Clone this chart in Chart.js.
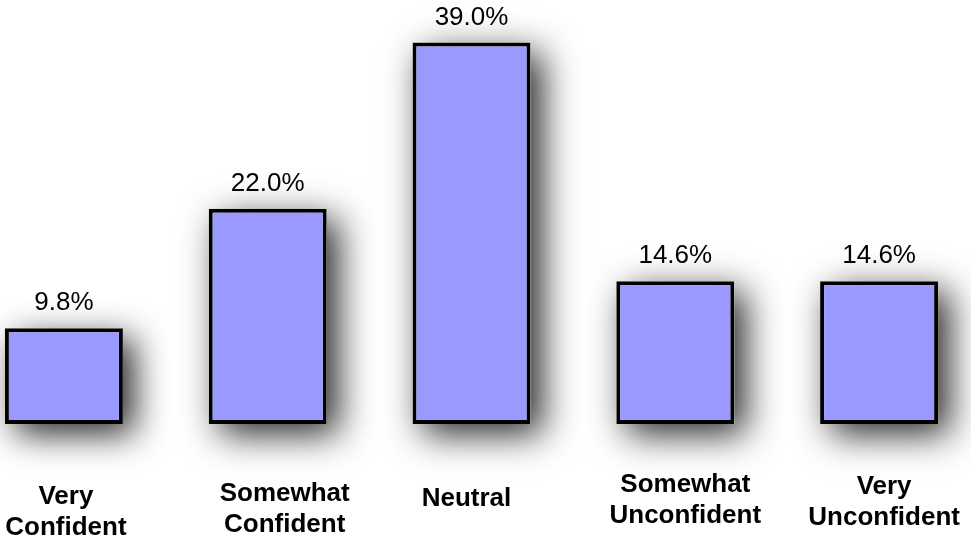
<!DOCTYPE html>
<html>
<head>
<meta charset="utf-8">
<script src="https://cdn.jsdelivr.net/npm/chart.js@4"></script>
<style>
  html, body { margin: 0; padding: 0; background: #fff; overflow: hidden; }
  #wrap { position: absolute; left: -38px; top: 0; width: 1019px; height: 541px; }
</style>
</head>
<body>
<div id="wrap"><canvas id="chart"></canvas></div>
<script>
// Data
const categories = [
    ['Very', 'Confident'],
    ['Somewhat', 'Confident'],
    ['Neutral'],
    ['Somewhat', 'Unconfident'],
    ['Very', 'Unconfident']
];
const percentValues = [9.8, 22.0, 39.0, 14.6, 14.6];
const valueLabels = ['9.8%', '22.0%', '39.0%', '14.6%', '14.6%'];

// posisi label kategori (geser dari tengah batang / garis dasar)
const labelShiftX = [2, 17, -5, 10, 5];
const labelShiftY = [80, 77, 82, 68, 70];

// bayangan di belakang batang
const shadowPlugin = {
    id: 'barShadow',
    beforeDatasetsDraw(chart) {
        const ctx = chart.ctx;
        const meta = chart.getDatasetMeta(0);
        ctx.save();
        ctx.shadowColor = 'rgba(0,0,0,0.85)';
        ctx.shadowBlur = 34;
        ctx.shadowOffsetX = 11;
        ctx.shadowOffsetY = 10;
        ctx.fillStyle = '#ffffff';
        meta.data.forEach(bar => {
            const p = bar.getProps(['x', 'y', 'base', 'width'], true);
            ctx.fillRect(p.x - p.width / 2, p.y, p.width, p.base - p.y);
        });
        ctx.restore();
    }
};

// label nilai + label kategori
const labelPlugin = {
    id: 'textLabels',
    afterDatasetsDraw(chart) {
        const ctx = chart.ctx;
        const meta = chart.getDatasetMeta(0);
        const xScale = chart.scales.x;
        const yScale = chart.scales.y;
        const basePx = yScale.getPixelForValue(0);
        ctx.save();
        ctx.fillStyle = '#000';
        ctx.textAlign = 'center';
        ctx.textBaseline = 'alphabetic';

        ctx.font = '26px "Liberation Sans", Arial, sans-serif';
        meta.data.forEach((bar, i) => {
            ctx.fillText(valueLabels[i], bar.x, bar.y - 18);
        });

        ctx.font = 'bold 26px "Liberation Sans", Arial, sans-serif';
        categories.forEach((lines, i) => {
            const cx = xScale.getPixelForValue(i) + labelShiftX[i];
            let cy = basePx + labelShiftY[i];
            lines.forEach(line => {
                ctx.fillText(line, cx, cy);
                cy += 31;
            });
        });
        ctx.restore();
    }
};

const ctx = document.getElementById('chart').getContext('2d');
new Chart(ctx, {
    type: 'bar',
    data: {
        labels: categories,
        datasets: [{
            data: percentValues,
            backgroundColor: '#9999ff',
            borderColor: '#000000',
            borderWidth: 4,
            borderSkipped: false,
            barPercentage: 0.579,
            categoryPercentage: 1.0
        }]
    },
    options: {
        responsive: true,
        maintainAspectRatio: false,
        animation: false,
        layout: { padding: { top: 0, bottom: 117, left: 0, right: 0 } },
        plugins: {
            legend: { display: false },
            tooltip: { enabled: false }
        },
        scales: {
            x: { display: false, offset: true },
            y: { display: false, min: 0, max: 43.35 }
        }
    },
    plugins: [shadowPlugin, labelPlugin]
});
</script>
</body>
</html>
